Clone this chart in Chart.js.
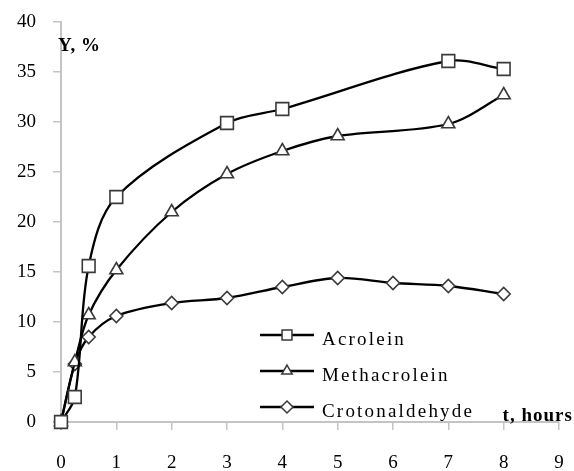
<!DOCTYPE html>
<html><head><meta charset="utf-8">
<script src="https://cdn.jsdelivr.net/npm/chart.js@4/dist/chart.umd.min.js"></script>
<style>html,body{margin:0;padding:0;background:#fff}#wrap{width:574px;height:471px;position:relative}</style>
</head><body><div id="wrap"><canvas id="c" width="574" height="471"></canvas></div>
<script>
// ---- data ----
const seriesNames = ['Acrolein', 'Methacrolein', 'Crotonaldehyde'];
const hoursAcrolein = [0, 0.25, 0.5, 1, 3, 4, 7, 8];
const acrolein = [0, 2.5, 15.6, 22.5, 29.9, 31.3, 36.1, 35.3];
const hoursMethacrolein = [0, 0.25, 0.5, 1, 2, 3, 4, 5, 7, 8];
const methacrolein = [0, 6.0, 10.7, 15.2, 21.0, 24.8, 27.1, 28.6, 29.8, 32.7];
const hoursCroton = [0, 0.25, 0.5, 1, 2, 3, 4, 5, 6, 7, 8];
const crotonaldehyde = [0, 5.8, 8.5, 10.6, 11.9, 12.4, 13.5, 14.4, 13.9, 13.6, 12.8];
const xTickValues = [0, 1, 2, 3, 4, 5, 6, 7, 8, 9];
const yTickValues = [0, 5, 10, 15, 20, 25, 30, 35, 40];
const yTitle = 'Y, %';
const xTitle = 't, hours';

const pts = (xs, ys) => xs.map((x, i) => ({x: x, y: ys[i]}));
const SERIF = '"Liberation Serif", "Times New Roman", serif';
const MARK = '#3a3a3a';
const AXIS = '#c4c4c4';

const styles = [
  {pointStyle: 'rect', radius: 9},
  {pointStyle: 'triangle', radius: 7.5},
  {pointStyle: 'rectRot', radius: 6.5}
];
const seriesData = [pts(hoursAcrolein, acrolein), pts(hoursMethacrolein, methacrolein), pts(hoursCroton, crotonaldehyde)];

const datasets = seriesNames.map((n, i) => ({
  label: n,
  data: seriesData[i],
  borderColor: '#000',
  borderWidth: 2.3,
  tension: 0.33,
  fill: false,
  clip: false,
  pointStyle: styles[i].pointStyle,
  pointRadius: styles[i].radius,
  pointHoverRadius: styles[i].radius,
  pointBackgroundColor: '#fff',
  pointBorderColor: MARK,
  pointBorderWidth: 1.6
}));

function drawMarker(ctx, style, x, y, r) {
  ctx.beginPath();
  if (style === 'rect') {
    const s = Math.SQRT1_2 * r;
    ctx.rect(x - s, y - s, 2 * s, 2 * s);
  } else if (style === 'triangle') {
    ctx.moveTo(x, y - r);
    ctx.lineTo(x + r * Math.sin(Math.PI * 2 / 3), y - r * Math.cos(Math.PI * 2 / 3));
    ctx.lineTo(x - r * Math.sin(Math.PI * 2 / 3), y - r * Math.cos(Math.PI * 2 / 3));
    ctx.closePath();
  } else {
    ctx.moveTo(x, y - r); ctx.lineTo(x + r, y); ctx.lineTo(x, y + r); ctx.lineTo(x - r, y); ctx.closePath();
  }
  ctx.fillStyle = '#fff'; ctx.fill();
  ctx.strokeStyle = MARK; ctx.lineWidth = 1.5; ctx.stroke();
}

const overlay = {
  id: 'overlay',
  afterDraw(chart) {
    const ctx = chart.ctx;
    const xs = chart.scales.x, ys = chart.scales.y;
    ctx.save();
    // axis titles
    ctx.fillStyle = '#000';
    ctx.textAlign = 'left';
    ctx.textBaseline = 'alphabetic';
    ctx.font = 'bold 19px ' + SERIF;
    ctx.letterSpacing = '0.5px';
    ctx.fillText(yTitle, xs.getPixelForValue(0) - 3, ys.getPixelForValue(37.1));
    ctx.letterSpacing = '1px';
    ctx.fillText(xTitle, xs.getPixelForValue(7.98), ys.getPixelForValue(0.1));
    // legend
    const lineYs = [335, 371, 407];
    seriesNames.forEach((n, i) => {
      const y = lineYs[i];
      ctx.beginPath();
      ctx.moveTo(260, y); ctx.lineTo(314, y);
      ctx.strokeStyle = '#000'; ctx.lineWidth = 2.3; ctx.stroke();
      drawMarker(ctx, styles[i].pointStyle, 287, y, i === 0 ? 7 : 6);
      ctx.fillStyle = '#000';
      ctx.font = '19px ' + SERIF;
      ctx.letterSpacing = '2.2px';
      ctx.fillText(n, 322, y + 10);
    });
    ctx.restore();
  }
};

new Chart(document.getElementById('c'), {
  type: 'line',
  data: {datasets: datasets},
  plugins: [overlay],
  options: {
    responsive: false,
    animation: false,
    devicePixelRatio: 1,
    layout: {padding: {top: 22, right: 15, left: 0, bottom: 0}},
    plugins: {legend: {display: false}, tooltip: {enabled: false}},
    scales: {
      x: {
        type: 'linear', min: 0, max: 9,
        afterFit: s => { s.height = 49; s.paddingLeft = 0; s.paddingRight = 0; },
        afterBuildTicks: s => { s.ticks = xTickValues.map(v => ({value: v})); },
        grid: {drawOnChartArea: false, drawTicks: true, tickLength: 8, color: AXIS, lineWidth: 1.5},
        border: {color: AXIS, width: 2},
        ticks: {color: '#000', padding: 22, maxRotation: 0, font: {family: SERIF, size: 19}}
      },
      y: {
        type: 'linear', min: 0, max: 40,
        afterFit: s => { s.width = 61; s.paddingTop = 0; s.paddingBottom = 0; },
        afterBuildTicks: s => { s.ticks = yTickValues.map(v => ({value: v})); },
        grid: {drawOnChartArea: false, drawTicks: true, tickLength: 8, color: AXIS, lineWidth: 1.5},
        border: {color: AXIS, width: 2},
        ticks: {color: '#000', padding: 17, font: {family: SERIF, size: 19}}
      }
    }
  }
});
</script>
</body></html>
